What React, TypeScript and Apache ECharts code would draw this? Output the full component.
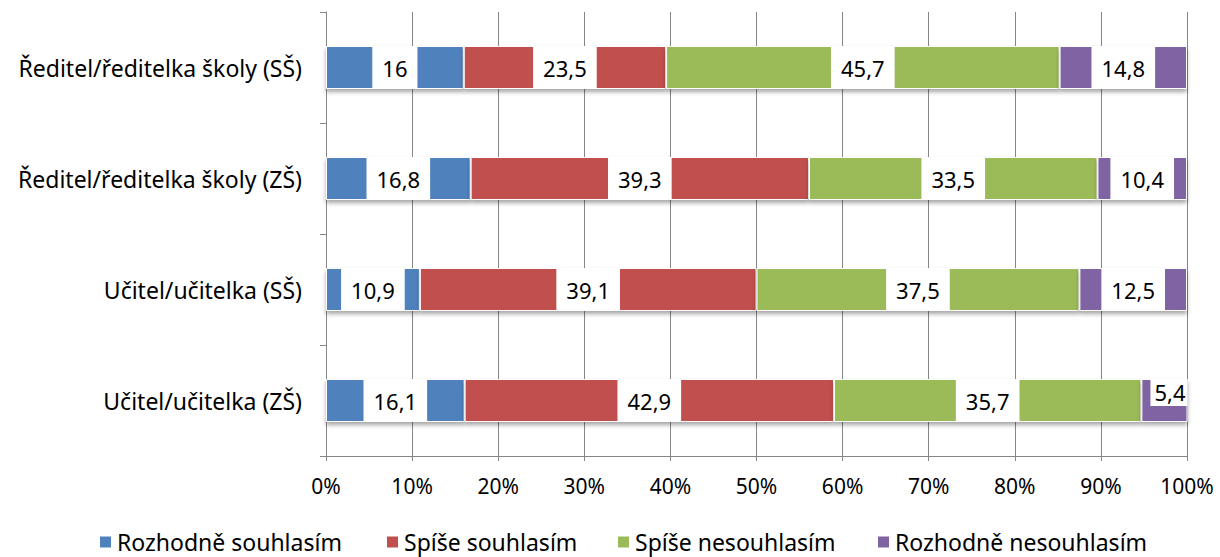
import React, { useEffect, useRef } from "react";
import * as echarts from "echarts";

const categories = [
  "Učitel/učitelka (ZŠ)",
  "Učitel/učitelka (SŠ)",
  "Ředitel/ředitelka školy (ZŠ)",
  "Ředitel/ředitelka školy (SŠ)",
];
const seriesNames = [
  "Rozhodně souhlasím",
  "Spíše souhlasím",
  "Spíše nesouhlasím",
  "Rozhodně nesouhlasím",
];
const rozhodneSouhlasim = [16.1, 10.9, 16.8, 16];
const spiseSouhlasim = [42.9, 39.1, 39.3, 23.5];
const spiseNesouhlasim = [35.7, 37.5, 33.5, 45.7];
const rozhodneNesouhlasim = [5.4, 12.5, 10.4, 14.8];
const colors = ["#4F81BD", "#C0504D", "#9BBB59", "#8064A2"];
const legendLefts = [98, 385, 616, 876];

const FONT = "'Noto Sans', sans-serif";

export default function App() {
  const ref = useRef<HTMLDivElement>(null);
  useEffect(() => {
    if (!ref.current) return;
    const chart = echarts.init(ref.current, null, { renderer: "svg" });
    const all = [rozhodneSouhlasim, spiseSouhlasim, spiseNesouhlasim, rozhodneNesouhlasim];
    const labelBase = {
      show: true,
      position: "inside",
      color: "#000",
      fontSize: 22,
      fontFamily: FONT,
      backgroundColor: "#fff",
      padding: [10, 10],
      formatter: (p: any) => String(p.value).replace(".", ","),
    };
    const series = all.map((vals, i) => ({
      name: seriesNames[i],
      type: "bar",
      stack: "total",
      barWidth: 43,
      data: vals.map((v, j) => {
        if (i === 3 && j === 0) {
          return {
            value: v,
            label: { position: "insideTopRight", padding: [2, 2, 3, 4], distance: 0 },
          };
        }
        return v;
      }),
      itemStyle: {
        color: colors[i],
        borderColor: "#fff",
        borderWidth: 1,
        shadowColor: "rgba(0,0,0,0.35)",
        shadowBlur: 4,
        shadowOffsetY: 3,
      },
      label: labelBase,
    }));
    const legends = seriesNames.map((n, i) => ({
      top: 530,
      left: legendLefts[i],
      padding: 0,
      icon: "rect",
      itemWidth: 13,
      itemHeight: 13,
      itemGap: 0,
      textStyle: { fontSize: 23, lineHeight: 24, fontFamily: FONT, color: "#000" },
      data: [n],
    }));
    chart.setOption({
      animation: false,
      backgroundColor: "#fff",
      grid: { left: 326, right: 33, top: 12, bottom: 101, containLabel: false },
      legend: legends,
      xAxis: {
        type: "value",
        min: 0,
        max: 100,
        interval: 10,
        axisLabel: {
          formatter: "{value}%",
          fontSize: 21,
          fontFamily: FONT,
          color: "#000",
          margin: 19,
        },
        axisLine: { show: true, lineStyle: { color: "#868686", width: 1 } },
        axisTick: { show: true, length: 5, lineStyle: { color: "#868686" } },
        splitLine: { show: true, lineStyle: { color: "#868686", width: 1 } },
      },
      yAxis: {
        type: "category",
        data: categories,
        axisLabel: { fontSize: 23, fontFamily: FONT, color: "#000", margin: 24 },
        axisLine: { show: true, lineStyle: { color: "#868686", width: 1 } },
        axisTick: { show: true, length: 6, lineStyle: { color: "#868686" } },
      },
      series,
    });
    return () => chart.dispose();
  }, []);
  return <div ref={ref} style={{ width: 1220, height: 557, position: "absolute", left: 0, top: 0 }} />;
}
